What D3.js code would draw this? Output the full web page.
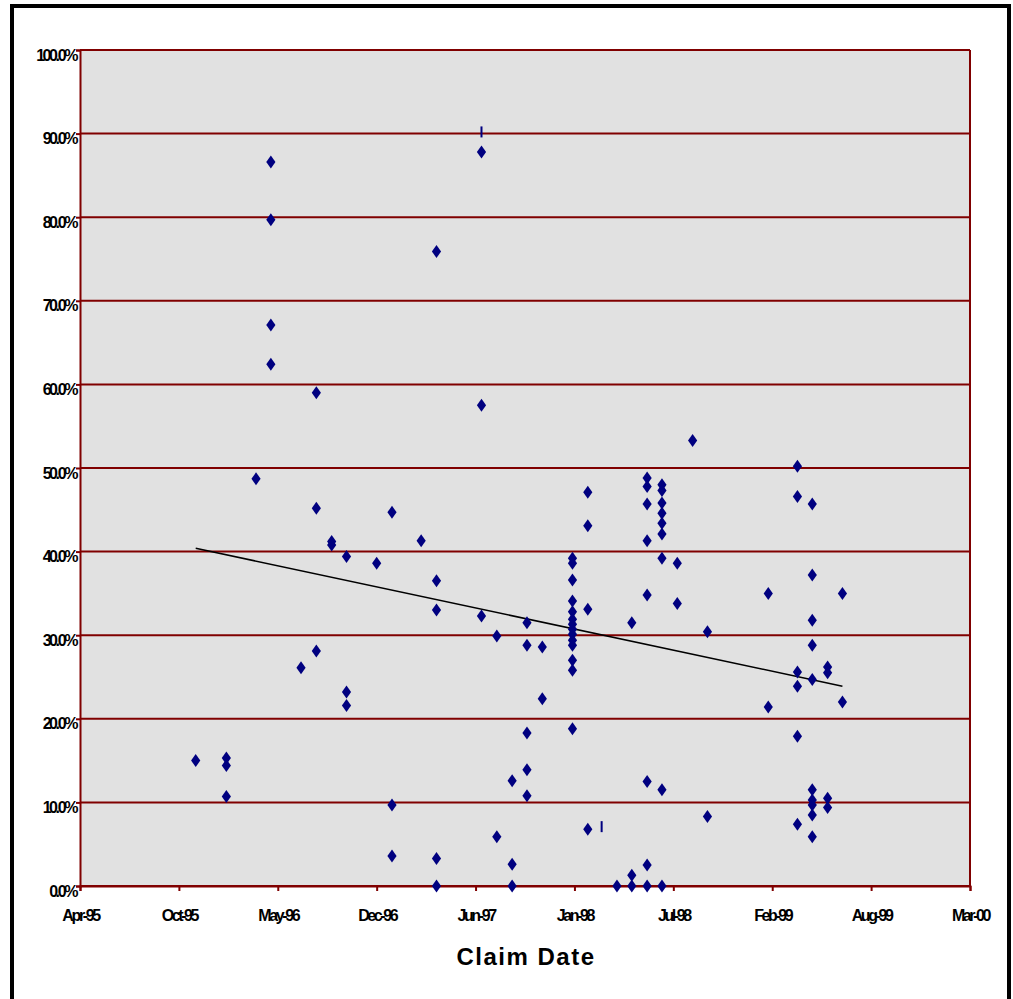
<!DOCTYPE html>
<html>
<head>
<meta charset="utf-8">
<script src="https://cdn.jsdelivr.net/npm/d3@7"></script>
<style>
  body { margin: 0; background: #fff; }
  svg text { font-family: "Liberation Sans", Arial, sans-serif; }
</style>
</head>
<body>
<div id="chart"></div>
<script>
var months = ["1995-12-01", "1996-02-01", "1996-04-01", "1996-05-01", "1996-07-01", "1996-08-01",
  "1996-09-01", "1996-10-01", "1996-12-01", "1997-01-01", "1997-03-01", "1997-04-01", "1997-07-01",
  "1997-08-01", "1997-09-01", "1997-10-01", "1997-11-01", "1998-01-01", "1998-02-01", "1998-04-01",
  "1998-05-01", "1998-06-01", "1998-07-01", "1998-08-01", "1998-09-01", "1998-10-01", "1999-02-01",
  "1999-04-01", "1999-05-01", "1999-06-01", "1999-07-01"]

var ratios = [
  [15.0],
  [15.3, 14.4, 10.7],
  [48.7],
  [86.6, 79.7, 67.1, 62.4],
  [26.1],
  [59.0, 45.2, 28.1],
  [41.2, 40.8],
  [39.4, 23.2, 21.6],
  [38.6],
  [44.7, 9.7, 3.6],
  [41.3],
  [75.9, 36.5, 33.0, 3.3, 0],
  [87.8, 57.5, 32.3],
  [29.9, 5.9],
  [12.6, 2.6, 0],
  [31.5, 28.8, 18.3, 13.9, 10.8],
  [28.6, 22.4],
  [39.2, 38.6, 36.6, 34.1, 32.8, 31.9, 31.3, 30.7, 30.1, 29.4, 28.8, 27.0, 25.8, 18.8],
  [47.1, 43.1, 33.1, 6.8],
  [0],
  [31.5, 1.3, 0],
  [48.8, 47.8, 45.7, 41.3, 34.8, 12.5, 2.5, 0],
  [48.0, 47.3, 45.8, 44.6, 43.4, 42.1, 39.2, 11.5, 0],
  [38.6, 33.8],
  [53.3],
  [30.4, 8.3],
  [35.0, 21.4],
  [50.2, 46.6, 25.6, 23.9, 17.9, 7.4],
  [45.7, 37.2, 31.8, 28.8, 24.7, 11.5, 10.3, 9.7, 8.5, 5.9],
  [26.2, 25.5, 10.5, 9.4],
  [35.0, 22.0]
]

// two points drawn as thin slivers in the original
var sliverMonths = ["1997-07-01", "1998-03-01"]
var sliverRatios = [90.2, 7.1]

// linear trend, read at its two ends
var trendDates = ["1995-12-01", "1999-07-01"]
var trendRatios = [40.4, 23.9]

// date axis ticks (every 200 days)
var xTickDates = ["1995-04-11", "1995-10-28", "1996-05-15", "1996-12-01", "1997-06-19",
  "1998-01-05", "1998-07-24", "1999-02-09", "1999-08-28", "2000-03-15"]
var yTicks = [0, 10, 20, 30, 40, 50, 60, 70, 80, 90, 100]

var parse = d3.utcParse("%Y-%m-%d")
var tickDates = xTickDates.map(parse)

var points = []
months.forEach(function(m, i) {
  ratios[i].forEach(function(v) {
    points.push({ date: parse(m), value: v })
  })
})
var slivers = sliverMonths.map(function(m, i) {
  return { date: parse(m), value: sliverRatios[i] }
})
var trend = trendDates.map(function(m, i) {
  return { date: parse(m), value: trendRatios[i] }
})

var width = 1013, height = 999
var plotLeft = 80, plotRight = 970, plotTop = 50, plotBottom = 886

var svg = d3.select('#chart')
  .append('svg')
  .attr('width', width)
  .attr('height', height)

var xScale = d3.scaleUtc()
  .domain([tickDates[0], tickDates[tickDates.length - 1]])
  .range([plotLeft, plotRight])

var yScale = d3.scaleLinear()
  .domain([0, 100])
  .range([plotBottom, plotTop])

var axisColor = '#800000'

// plot background
svg.append('rect')
  .attr('x', plotLeft)
  .attr('y', plotTop)
  .attr('width', plotRight - plotLeft)
  .attr('height', plotBottom - plotTop)
  .attr('fill', '#e1e1e1')

// gridlines
svg.append('g')
  .selectAll('line')
  .data(yTicks)
  .enter()
  .append('line')
  .attr('x1', plotLeft)
  .attr('x2', plotRight)
  .attr('y1', function(d) { return yScale(d) })
  .attr('y2', function(d) { return yScale(d) })
  .attr('stroke', axisColor)
  .attr('stroke-width', 2)

// right border of plot area
svg.append('line')
  .attr('x1', plotRight).attr('x2', plotRight)
  .attr('y1', plotTop).attr('y2', plotBottom)
  .attr('stroke', axisColor)
  .attr('stroke-width', 2)

var yAxis = d3.axisLeft(yScale)
  .tickValues(yTicks)
  .tickSize(4)
  .tickPadding(4)
  .tickFormat(function(d) { return d.toFixed(1) + '%' })

var yChart = svg.append('g')
  .attr('transform', 'translate(' + plotLeft + ',0)')
  .call(yAxis)

var xAxis = d3.axisBottom(xScale)
  .tickValues(tickDates)
  .tickSize(5)
  .tickFormat(d3.utcFormat("%b-%y"))

var xChart = svg.append('g')
  .attr('transform', 'translate(0,' + plotBottom + ')')
  .call(xAxis)

;[xChart, yChart].forEach(function(g) {
  g.select('.domain').attr('stroke', axisColor).attr('stroke-width', 2)
  g.selectAll('.tick line').attr('stroke', axisColor).attr('stroke-width', 2)
  g.selectAll('.tick text')
    .attr('fill', '#000')
    .style('font-size', '16px')
    .style('font-weight', 'bold')
    .style('letter-spacing', '-2.4px')
    .style('font-family', '"Liberation Sans", Arial, sans-serif')
})
yChart.selectAll('.tick text').attr('dy', '10').attr('x', -4)
xChart.selectAll('.tick text').attr('dy', '0').attr('y', 35)

// trend line
var line = d3.line()
  .x(function(d) { return xScale(d.date) })
  .y(function(d) { return yScale(d.value) })

svg.append('path')
  .datum(trend)
  .attr('d', line)
  .attr('fill', 'none')
  .attr('stroke', '#000')
  .attr('stroke-width', 1.5)

// diamonds
svg.append('g')
  .selectAll('path')
  .data(points)
  .enter()
  .append('path')
  .attr('d', 'M0,-6.5L4.6,0L0,6.5L-4.6,0Z')
  .attr('transform', function(d) {
    return 'translate(' + xScale(d.date) + ',' + yScale(d.value) + ')'
  })
  .attr('fill', '#000080')

svg.append('g')
  .selectAll('rect')
  .data(slivers)
  .enter()
  .append('rect')
  .attr('x', function(d) { return xScale(d.date) - 1 })
  .attr('y', function(d) { return yScale(d.value) - 5.5 })
  .attr('width', 2)
  .attr('height', 11)
  .attr('fill', '#000080')

// axis title
svg.append('text')
  .attr('x', (plotLeft + plotRight) / 2 + 1)
  .attr('y', 965)
  .attr('text-anchor', 'middle')
  .style('font-size', '24px')
  .style('font-weight', 'bold')
  .style('letter-spacing', '1.5px')
  .text('Claim Date')

// outer frame
svg.append('rect')
  .attr('x', 12)
  .attr('y', 6)
  .attr('width', 997)
  .attr('height', 1010)
  .attr('fill', 'none')
  .attr('stroke', '#000')
  .attr('stroke-width', 4)
</script>
</body>
</html>
